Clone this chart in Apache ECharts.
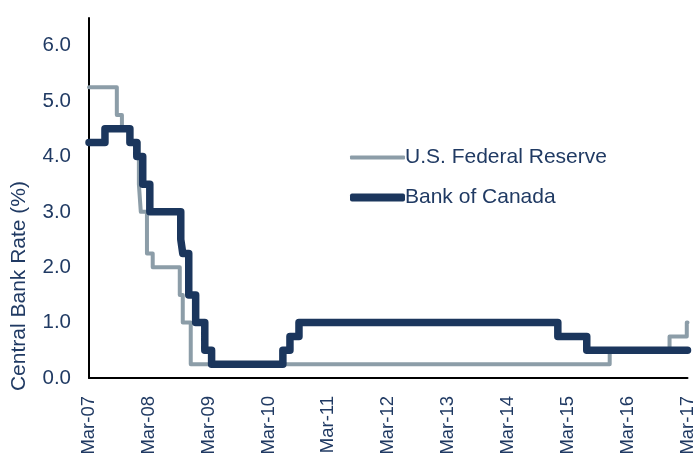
<!DOCTYPE html>
<html>
<head>
<meta charset="utf-8">
<script src="https://cdn.jsdelivr.net/npm/echarts@6/dist/echarts.min.js"></script>
<style>
  html, body { margin: 0; padding: 0; background: #fff; }
  #chart { width: 697px; height: 458px; }
</style>
</head>
<body>
<div id="chart"></div>
<script>
// policy rate changes (date the new rate starts, rate %)
const fedDates = ['2007-03-01', '2007-08-19', '2007-09-19', '2007-11-13', '2008-01-01', '2008-01-13',
  '2008-02-19', '2008-03-25', '2008-09-07', '2008-09-25', '2008-11-13', '2015-11-13',
  '2016-11-13', '2017-02-25', '2017-03-01']
const fedRates = [5.25, 4.75, 4.5, 4.25, 3.5, 3.0, 2.25, 2.0, 1.5, 1.0, 0.25, 0.5, 0.75, 1.0, 1.0]

const bocDates = ['2007-03-01', '2007-06-07', '2007-11-07', '2007-12-19', '2008-01-25', '2008-03-07',
  '2008-09-13', '2008-09-25', '2008-11-01', '2008-12-13', '2009-02-07', '2009-03-19',
  '2010-05-28', '2010-07-10', '2010-09-04', '2015-01-01', '2015-06-25', '2017-03-01']
const bocRates = [4.25, 4.5, 4.25, 4.0, 3.5, 3.0, 2.5, 2.25, 1.5, 1.0, 0.5, 0.25, 0.5, 0.75, 1.0, 0.75, 0.5, 0.5]

const seriesNames = ['U.S. Federal Reserve', 'Bank of Canada']
const yTicks = [0, 1, 2, 3, 4, 5, 6]

const navy = '#1B365D'
const grey = '#8C9DA8'
const textColor = '#203A63'

// months since Mar-07, so each yearly tick lands on a March
function monthIndex (s) {
  const p = s.split('-').map(Number)
  const dim = new Date(p[0], p[1], 0).getDate()
  return (p[0] - 2007) * 12 + (p[1] - 3) + (p[2] - 1) / dim
}

const fedData = fedDates.map((d, i) => [monthIndex(d), fedRates[i]])
const bocData = bocDates.map((d, i) => [monthIndex(d), bocRates[i]])

// one legend per series so each key can have its own thickness
function legendFor (name, top, h) {
  return {
    data: [name],
    left: 345,
    top: top,
    icon: 'roundRect',
    itemWidth: 55,
    itemHeight: h,
    textStyle: { color: textColor, fontSize: 21, padding: [0, 0, 0, -5] }
  }
}

const chart = echarts.init(document.getElementById('chart'))
chart.setOption({
  animation: false,
  textStyle: { fontFamily: 'Liberation Sans, Arial, sans-serif' },
  grid: { left: 89, right: 9, top: 18, bottom: 80 },
  legend: [
    legendFor(seriesNames[0], 142, 4),
    legendFor(seriesNames[1], 182, 8)
  ],
  graphic: [{
    type: 'text',
    left: 9,
    top: 181,
    rotation: Math.PI / 2,
    style: {
      text: 'Central Bank Rate (%)',
      fill: textColor,
      font: '21px "Liberation Sans", Arial, sans-serif'
    }
  }],
  xAxis: {
    type: 'value',
    min: 0,
    max: 120,
    interval: 12,
    axisLine: { lineStyle: { color: '#000', width: 2 } },
    axisTick: { show: false },
    splitLine: { show: false },
    axisLabel: {
      rotate: 90,
      margin: 18,
      color: textColor,
      fontSize: 18.5,
      formatter: v => 'Mar-' + String(7 + v / 12).padStart(2, '0')
    }
  },
  yAxis: {
    type: 'value',
    min: 0,
    max: 6.5,
    interval: 1,
    axisLine: { show: true, lineStyle: { color: '#000', width: 2 } },
    axisTick: { show: false },
    splitLine: { show: false },
    axisLabel: {
      margin: 18,
      color: textColor,
      fontSize: 20.5,
      showMaxLabel: false,
      formatter: v => yTicks.includes(v) ? v.toFixed(1) : ''
    }
  },
  series: [
    {
      name: seriesNames[0],
      type: 'line',
      step: 'end',
      symbol: 'none',
      data: fedData,
      lineStyle: { color: grey, width: 4, cap: 'round', join: 'round' },
      itemStyle: { color: grey }
    },
    {
      name: seriesNames[1],
      type: 'line',
      step: 'end',
      symbol: 'none',
      data: bocData,
      lineStyle: { color: navy, width: 7.5, cap: 'round', join: 'round' },
      itemStyle: { color: navy }
    }
  ]
})
</script>
</body>
</html>
